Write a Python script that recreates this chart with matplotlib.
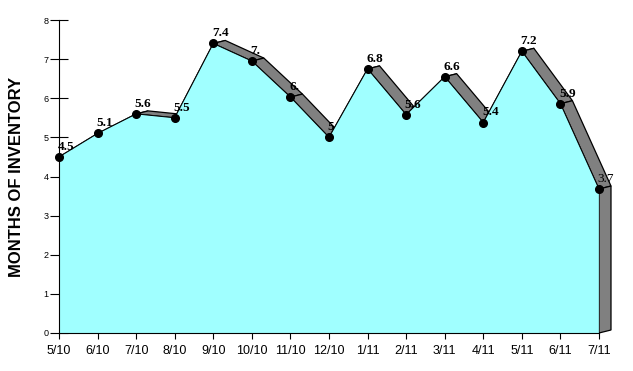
"""Months of inventory - 3D style area chart"""
import numpy as np
import matplotlib
matplotlib.use("Agg")
import matplotlib.pyplot as plt
from matplotlib.patches import Polygon

months = ["5/10", "6/10", "7/10", "8/10", "9/10", "10/10", "11/10", "12/10",
          "1/11", "2/11", "3/11", "4/11", "5/11", "6/11", "7/11"]
inventory = [4.5, 5.1, 5.6, 5.5, 7.4, 6.95, 6.03, 5.0,
             6.75, 5.58, 6.55, 5.38, 7.2, 5.86, 3.68]
point_labels = ["4.5", "5.1", "5.6", "5.5", "7.4", "7.", "6.", "5",
                "6.8", "5.6", "6.6", "5.4", "7.2", "5.9", "3.7"]

FILL = "#a0ffff"
SIDE = "#808080"
DEPTH_PX = (12, 3)  # how far back the "3d" depth goes, in pixels

fig = plt.figure(figsize=(6.33, 3.71), dpi=100)
ax = fig.add_axes([59 / 633, 38 / 371, 540 / 633, 313 / 371])
ax.set_xlim(0, len(months) - 1)
ax.set_ylim(0, 8)

# depth offset in data units
inv = ax.transData.inverted()
o = inv.transform(ax.transData.transform((0, 0)))
d = inv.transform(ax.transData.transform((0, 0)) + np.array(DEPTH_PX)) - o
ddx, ddy = d

x = np.arange(len(months))
y = np.array(inventory)

# top surface of the extrusion
for i in range(len(x) - 1):
    quad = [(x[i], y[i]), (x[i + 1], y[i + 1]),
            (x[i + 1] + ddx, y[i + 1] + ddy), (x[i] + ddx, y[i] + ddy)]
    ax.add_patch(Polygon(quad, closed=True, facecolor=SIDE, edgecolor="black",
                         linewidth=0.9, zorder=1, clip_on=False))

# right side face
side = [(x[-1], 0), (x[-1], y[-1]), (x[-1] + ddx, y[-1] + ddy), (x[-1] + ddx, ddy)]
ax.add_patch(Polygon(side, closed=True, facecolor=SIDE, edgecolor="black",
                     linewidth=0.9, zorder=1, clip_on=False))

# front face
ax.fill_between(x, 0, y, facecolor=FILL, edgecolor="none", zorder=2)
ax.plot(x, y, color="black", linewidth=0.7, zorder=3)
ax.plot(x[-1:].repeat(2), [0, y[-1]], color="black", linewidth=0.9, zorder=3)
ax.plot(x, y, "o", color="black", markersize=5.5, zorder=4, clip_on=False)

for xi, yi, lab in zip(x, y, point_labels):
    weight = "normal" if xi == x[-1] else "bold"
    ax.annotate(lab, (xi, yi), xytext=(-1, 3), textcoords="offset points",
                ha="left", va="bottom", fontsize=9.5, fontweight=weight,
                family="Liberation Serif", zorder=5, annotation_clip=False)

ax.spines["top"].set_visible(False)
ax.spines["right"].set_visible(False)
ax.spines["left"].set_zorder(6)
ax.spines["bottom"].set_zorder(6)

ax.set_xticks(x)
ax.set_xticklabels(months, family="Liberation Sans", fontsize=9)
ax.set_yticks(range(0, 9))
ax.set_yticklabels([str(v) for v in range(0, 9)], family="Liberation Sans", fontsize=6.5)
ax.tick_params(axis="y", direction="inout", length=13, width=0.8, pad=1)
ax.tick_params(axis="x", direction="out", length=4.5, width=0.8, pad=4)

ax.set_ylabel("MONTHS OF INVENTORY", family="Liberation Sans", fontsize=12,
              fontweight="bold", va="center")
ax.yaxis.set_label_coords(-42 / 540, 0.5)

fig.savefig("out.png", dpi=100)
